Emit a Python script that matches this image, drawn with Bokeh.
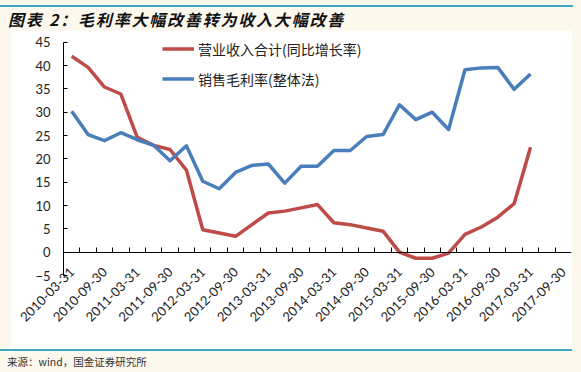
import math
import numpy as np
from bokeh.plotting import figure
from bokeh.models import Range1d, LinearAxis, FixedTicker, Legend, LegendItem, Div
from bokeh.layouts import column
from bokeh.embed import file_html
from bokeh.resources import INLINE

# ---- data ----
quarters = [
    "2010-03-31", "2010-06-30", "2010-09-30", "2010-12-31",
    "2011-03-31", "2011-06-30", "2011-09-30", "2011-12-31",
    "2012-03-31", "2012-06-30", "2012-09-30", "2012-12-31",
    "2013-03-31", "2013-06-30", "2013-09-30", "2013-12-31",
    "2014-03-31", "2014-06-30", "2014-09-30", "2014-12-31",
    "2015-03-31", "2015-06-30", "2015-09-30", "2015-12-31",
    "2016-03-31", "2016-06-30", "2016-09-30", "2016-12-31",
    "2017-03-31", "2017-06-30", "2017-09-30",
]
tick_labels = [
    "2010-03-31", "2010-09-30", "2011-03-31", "2011-09-30",
    "2012-03-31", "2012-09-30", "2013-03-31", "2013-09-30",
    "2014-03-31", "2014-09-30", "2015-03-31", "2015-09-30",
    "2016-03-31", "2016-09-30", "2017-03-31", "2017-09-30",
]
revenue_growth = [42.0, 39.6, 35.4, 33.9, 24.6, 22.9, 22.0, 17.6, 4.8, 4.1,
                  3.4, 5.9, 8.4, 8.8, 9.5, 10.2, 6.3, 5.9, 5.2, 4.5,
                  0.0, -1.3, -1.3, -0.2, 3.8, 5.4, 7.5, 10.4, 22.5]
gross_margin = [30.2, 25.2, 23.9, 25.6, 24.1, 22.9, 19.6, 22.8, 15.2, 13.6,
                17.1, 18.6, 18.9, 14.8, 18.4, 18.4, 21.8, 21.8, 24.8, 25.2,
                31.6, 28.4, 30.0, 26.3, 39.1, 39.5, 39.6, 34.9, 38.2]
y_ticks = [-5, 0, 5, 10, 15, 20, 25, 30, 35, 40, 45]
series_names = ["营业收入合计(同比增长率)", "销售毛利率(整体法)"]
title_text = "图表 2：毛利率大幅改善转为收入大幅改善"
source_text = "来源：wind，国金证券研究所"

RED = "#BE4B48"
BLUE = "#4A7EBB"
TEAL = "#3FA7C6"
CREAM = "#FCF8EE"
AXIS_FONT = "Lato"
CJK_FONT = "Noto Sans CJK SC"

n_cat = len(quarters)
x_pos = np.arange(len(revenue_growth)) + 0.5
tick_pos = [quarters.index(t) + 0.5 for t in tick_labels]

# a little headroom above 45 so the legend sits inside the plot area
p = figure(width=562, height=319,
           x_range=Range1d(0, n_cat), y_range=Range1d(y_ticks[0], 46.44),
           x_axis_location=None, y_axis_location=None,
           toolbar_location=None, output_backend="svg",
           min_border_left=53, min_border_right=1, min_border_top=5, min_border_bottom=74,
           background_fill_color="white", border_fill_color="white",
           outline_line_color=None, margin=(0, 9, 0, 10))
p.grid.visible = False

yaxis = LinearAxis(ticker=FixedTicker(ticks=y_ticks), bounds=(y_ticks[0], y_ticks[-1]),
                   major_tick_in=4, major_tick_out=0,
                   minor_tick_in=0, minor_tick_out=0,
                   major_label_standoff=13,
                   axis_line_color="black", major_tick_line_color="black",
                   major_label_text_font=AXIS_FONT, major_label_text_font_size="13px",
                   major_label_text_color="#222222")
p.add_layout(yaxis, "left")

# category labels below the plot area
xlabels = LinearAxis(ticker=FixedTicker(ticks=tick_pos),
                     axis_line_color=None, major_tick_line_color=None,
                     minor_tick_line_color=None,
                     major_label_overrides={tp: lab for tp, lab in zip(tick_pos, tick_labels)},
                     major_label_orientation=math.pi / 4,
                     major_label_standoff=-12,
                     major_label_text_font=AXIS_FONT, major_label_text_font_size="13px",
                     major_label_text_color="#222222")
p.add_layout(xlabels, "below")

# axis line crossing at zero with category-boundary tick marks (pointing up)
xline = LinearAxis(fixed_location=0,
                   ticker=FixedTicker(ticks=[], minor_ticks=list(range(1, n_cat))),
                   major_tick_in=0, major_tick_out=0,
                   minor_tick_in=0, minor_tick_out=5,
                   axis_line_color="black", minor_tick_line_color="black",
                   major_label_text_font_size="0px", major_label_standoff=0)
p.add_layout(xline, "above")

r1 = p.line(x_pos, revenue_growth, line_color=RED, line_width=3.5, line_join="round")
r2 = p.line(x_pos, gross_margin, line_color=BLUE, line_width=3.5, line_join="round")

legend = Legend(items=[LegendItem(label=series_names[0], renderers=[r1]),
                       LegendItem(label=series_names[1], renderers=[r2])],
                location=(99, 186), orientation="vertical",
                glyph_width=32, glyph_height=21, label_height=21,
                label_standoff=4, spacing=9, padding=0, margin=0,
                border_line_color=None, background_fill_alpha=0,
                label_text_font=CJK_FONT, label_text_font_size="14px",
                label_text_color="#222222")
p.add_layout(legend)

line_top = Div(text="", width=573, height=2, margin=(5, 0, 0, 0),
               styles={"background-color": TEAL})
title_div = Div(text=title_text, width=573, height=21, margin=(2, 0, 0, 8),
                styles={"font-family": "'Noto Sans CJK SC'", "font-size": "16px",
                        "font-weight": "bold", "font-style": "italic",
                        "letter-spacing": "1.8px",
                        "line-height": "21px", "color": "#111111", "white-space": "nowrap"})
line_bottom = Div(text="", width=572, height=2, margin=(0, 0, 0, 0),
                  styles={"background-color": TEAL})
source_div = Div(text=source_text, width=574, height=20, margin=(1, 0, 0, 7),
                 styles={"font-family": "'Noto Sans CJK SC'", "font-size": "10.5px",
                         "line-height": "19px", "color": "#333333", "white-space": "nowrap"})

layout = column(line_top, title_div, p, line_bottom, source_div, spacing=0,
                styles={"background-color": CREAM})

open("out.html", "w").write(file_html(layout, INLINE))
